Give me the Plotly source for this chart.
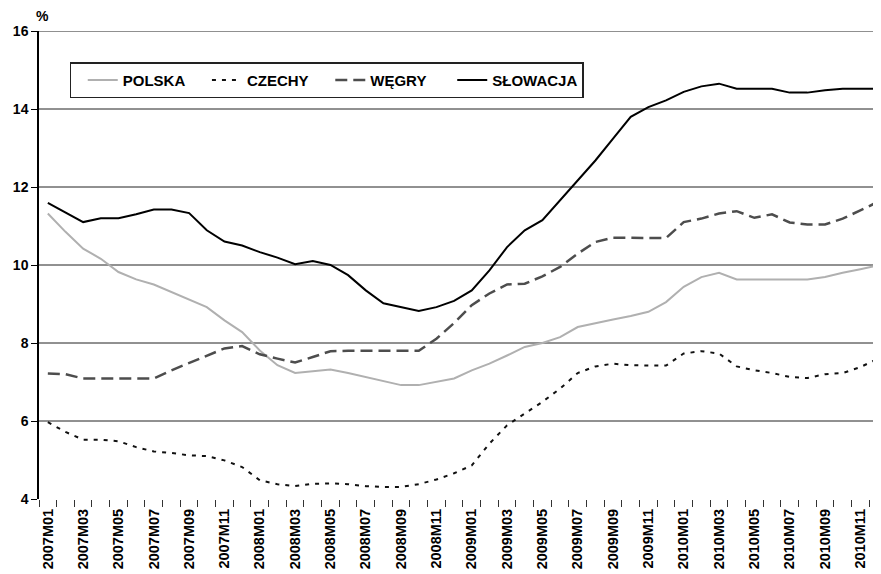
import plotly.graph_objects as go

months = [f"{y}M{m:02d}" for y in range(2007, 2011) for m in range(1, 13)]

polska = [11.32, 10.85, 10.42, 10.16, 9.82, 9.63, 9.50, 9.31, 9.11, 8.92, 8.58, 8.28,
          7.81, 7.43, 7.23, 7.28, 7.32, 7.23, 7.13, 7.03, 6.92, 6.92, 7.00, 7.09,
          7.30, 7.47, 7.68, 7.90, 8.00, 8.15, 8.41, 8.51, 8.60, 8.69, 8.80, 9.05,
          9.44, 9.69, 9.80, 9.63, 9.63, 9.63, 9.63, 9.63, 9.69, 9.80, 9.89, 9.99]

czechy = [5.97, 5.72, 5.52, 5.52, 5.48, 5.33, 5.22, 5.18, 5.12, 5.10, 4.99, 4.82,
          4.48, 4.38, 4.33, 4.39, 4.40, 4.38, 4.33, 4.31, 4.31, 4.38, 4.50, 4.66,
          4.86, 5.42, 5.89, 6.19, 6.49, 6.83, 7.23, 7.40, 7.47, 7.43, 7.42, 7.42,
          7.73, 7.79, 7.73, 7.40, 7.30, 7.23, 7.13, 7.10, 7.20, 7.23, 7.38, 7.60]

wegry = [7.22, 7.20, 7.09, 7.09, 7.09, 7.09, 7.09, 7.30, 7.49, 7.68, 7.86, 7.92,
         7.71, 7.60, 7.50, 7.64, 7.79, 7.80, 7.80, 7.80, 7.80, 7.80, 8.11, 8.51,
         8.97, 9.27, 9.50, 9.52, 9.71, 9.95, 10.29, 10.59, 10.70, 10.70, 10.70, 10.69,
         11.10, 11.19, 11.32, 11.38, 11.21, 11.30, 11.09, 11.04, 11.04, 11.19, 11.40, 11.62]

slowacja = [11.59, 11.35, 11.10, 11.20, 11.20, 11.30, 11.42, 11.42, 11.33, 10.89, 10.60, 10.50,
            10.33, 10.19, 10.02, 10.10, 10.00, 9.74, 9.35, 9.02, 8.92, 8.82, 8.92, 9.08,
            9.35, 9.86, 10.46, 10.89, 11.15, 11.66, 12.17, 12.68, 13.24, 13.80, 14.05, 14.22,
            14.44, 14.58, 14.65, 14.52, 14.52, 14.52, 14.42, 14.42, 14.48, 14.52, 14.52, 14.52]

series_names = ["POLSKA", "CZECHY", "WĘGRY", "SŁOWACJA"]
y_ticks = [4, 6, 8, 10, 12, 14, 16]
grid_vals = [6, 8, 10, 12, 14, 16]

idx = list(range(len(months)))
tick_idx = idx[::2]
tick_txt = months[::2]

FONT = "Liberation Sans, Arial, sans-serif"
NB = "\u00a0"
pads = [4, 4, 5, 0]
labels = [n + NB * p for n, p in zip(series_names, pads)]

fig = go.Figure()
fig.add_trace(go.Scatter(x=idx, y=polska, name=labels[0], mode="lines",
                         line=dict(color="#b0b0b0", width=2)))
fig.add_trace(go.Scatter(x=idx, y=czechy, name=labels[1], mode="lines",
                         line=dict(color="#111111", width=2, dash="4px,6px")))
fig.add_trace(go.Scatter(x=idx, y=wegry, name=labels[2], mode="lines",
                         line=dict(color="#4d4d4d", width=2.5, dash="12px,6px")))
fig.add_trace(go.Scatter(x=idx, y=slowacja, name=labels[3], mode="lines",
                         line=dict(color="#000000", width=2)))

for g in grid_vals:
    fig.add_hline(y=g, line=dict(color="#222222", width=1), layer="below")

fig.update_layout(
    width=881, height=574,
    margin=dict(l=31, r=8, t=22.7, b=83.3),
    paper_bgcolor="white", plot_bgcolor="white",
    font=dict(family=FONT, size=14, color="black", weight="bold"),
    showlegend=True,
    legend=dict(orientation="h", x=0.0368, y=0.933, xanchor="left", yanchor="top",
                bordercolor="#222222", borderwidth=1.5, bgcolor="white",
                font=dict(family=FONT, size=15, color="black", weight="bold"),
                title=dict(text="\u200a", side="left", font=dict(size=15)),
                traceorder="normal"),
    xaxis=dict(range=[-0.5, 47.17], tickmode="array", tickvals=tick_idx, ticktext=tick_txt,
               tickangle=-90, ticks="", showgrid=False, zeroline=False, showline=False,
               automargin=False, ticklabelstandoff=6,
               tickfont=dict(family=FONT, size=14.5, color="black", weight="bold"),
               minor=dict(tick0=0.5, dtick=1, ticks="outside", ticklen=7,
                          tickcolor="#333333", tickwidth=1, showgrid=False)),
    yaxis=dict(range=[4, 16], tickmode="array", tickvals=y_ticks, showgrid=False,
               zeroline=False, showline=True, linecolor="black", linewidth=1.5,
               ticks="outside", ticklen=6, tickcolor="black", automargin=False,
               tickfont=dict(family=FONT, size=14, color="black", weight="bold")),
    annotations=[dict(text="%", xref="paper", yref="paper", x=0.004, y=1.031,
                      xanchor="center", yanchor="middle", showarrow=False,
                      font=dict(family=FONT, size=14, color="black", weight="bold"))],
)

fig.write_html("out.html")
